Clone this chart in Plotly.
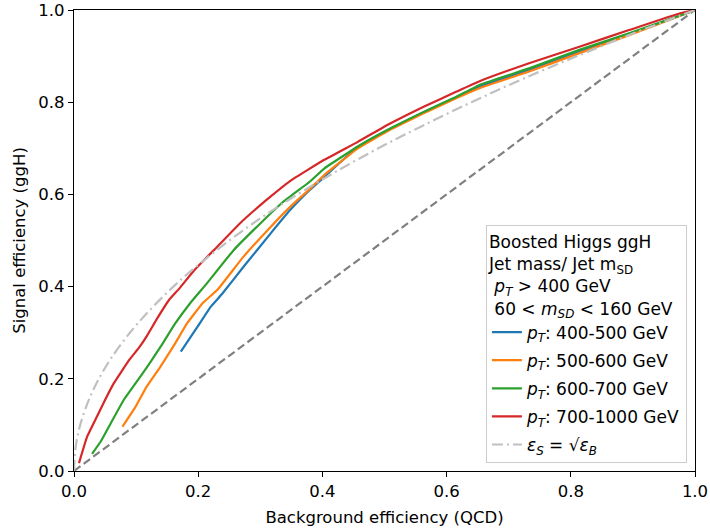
import plotly.graph_objects as go

# ROC curves (x: background eff., y: signal eff.)
bkg_400_500 = [0.172, 0.199, 0.220, 0.239, 0.273, 0.317, 0.348, 0.380, 0.403, 0.457, 0.509, 0.563, 0.616, 0.654, 0.734, 0.815, 0.895, 1.0]
sig_400_500 = [0.259, 0.313, 0.356, 0.385, 0.443, 0.516, 0.566, 0.610, 0.638, 0.703, 0.742, 0.778, 0.811, 0.834, 0.871, 0.911, 0.948, 1.0]

bkg_500_600 = [0.078, 0.099, 0.117, 0.139, 0.163, 0.182, 0.207, 0.231, 0.273, 0.317, 0.348, 0.380, 0.403, 0.457, 0.509, 0.563, 0.616, 0.654, 0.734, 0.815, 0.895, 1.0]
sig_500_600 = [0.096, 0.139, 0.183, 0.226, 0.277, 0.320, 0.364, 0.393, 0.465, 0.530, 0.573, 0.612, 0.642, 0.700, 0.740, 0.776, 0.809, 0.831, 0.867, 0.907, 0.946, 1.0]

bkg_600_700 = [0.029, 0.043, 0.059, 0.080, 0.099, 0.122, 0.143, 0.163, 0.187, 0.214, 0.257, 0.300, 0.337, 0.380, 0.403, 0.457, 0.509, 0.563, 0.616, 0.654, 0.734, 0.815, 0.895, 0.976, 1.0]
sig_600_700 = [0.037, 0.064, 0.103, 0.154, 0.190, 0.234, 0.277, 0.320, 0.364, 0.407, 0.479, 0.537, 0.584, 0.628, 0.656, 0.704, 0.743, 0.779, 0.812, 0.838, 0.874, 0.914, 0.950, 0.988, 1.0]

bkg_700_1000 = [0.008, 0.021, 0.037, 0.050, 0.064, 0.089, 0.105, 0.117, 0.134, 0.153, 0.169, 0.194, 0.231, 0.267, 0.310, 0.349, 0.403, 0.457, 0.509, 0.563, 0.616, 0.654, 0.734, 0.815, 0.895, 0.976, 1.0]
sig_700_1000 = [0.017, 0.074, 0.118, 0.154, 0.190, 0.241, 0.268, 0.292, 0.331, 0.371, 0.395, 0.436, 0.487, 0.537, 0.588, 0.630, 0.675, 0.714, 0.754, 0.790, 0.823, 0.846, 0.885, 0.921, 0.957, 0.993, 1.0]

# reference curve eps_S = sqrt(eps_B), tabulated
ref_x = [0.0, 0.002, 0.005, 0.01, 0.02, 0.03, 0.04, 0.06, 0.09, 0.12, 0.16, 0.2, 0.25, 0.3, 0.36, 0.42, 0.49, 0.56, 0.64, 0.72, 0.81, 0.9, 1.0]
ref_y = [0.0, 0.045, 0.071, 0.1, 0.141, 0.173, 0.2, 0.245, 0.3, 0.346, 0.4, 0.447, 0.5, 0.548, 0.6, 0.648, 0.7, 0.748, 0.8, 0.849, 0.9, 0.949, 1.0]

diag = [0.0, 1.0]

series = [
    ("<i>p</i><sub><i>T</i></sub>: 400-500 GeV", bkg_400_500, sig_400_500, "#1f77b4"),
    ("<i>p</i><sub><i>T</i></sub>: 500-600 GeV", bkg_500_600, sig_500_600, "#ff7f0e"),
    ("<i>p</i><sub><i>T</i></sub>: 600-700 GeV", bkg_600_700, sig_600_700, "#2ca02c"),
    ("<i>p</i><sub><i>T</i></sub>: 700-1000 GeV", bkg_700_1000, sig_700_1000, "#d62728"),
]

fig = go.Figure()
fig.add_trace(go.Scatter(x=diag, y=diag, mode="lines", showlegend=False,
                         line=dict(color="#808080", width=2.2, dash="8px,4px")))
for i, (name, x, y, c) in enumerate(series):
    fig.add_trace(go.Scatter(x=x, y=y, mode="lines", name=name, legendgroup=f"g{i}",
                             line=dict(color=c, width=2.2, shape="spline", smoothing=0.3)))
fig.add_trace(go.Scatter(x=ref_x, y=ref_y, mode="lines", legendgroup="ref",
                         name="<i>ε</i><sub><i>S</i></sub> = √<i>ε</i><sub><i>B</i></sub>",
                         line=dict(color="#c0c0c0", width=2.2, dash="11px,4px,2px,4px", shape="spline")))

font = "DejaVu Sans, Arial, sans-serif"
axis_common = dict(range=[0, 1], showgrid=False, zeroline=False, showline=True, automargin=False,
                   linecolor="black", linewidth=1.2, mirror=True, ticks="outside",
                   ticklen=5, tickwidth=1.2, tickcolor="black",
                   tickvals=[0, 0.2, 0.4, 0.6, 0.8, 1.0],
                   ticktext=["0.0", "0.2", "0.4", "0.6", "0.8", "1.0"],
                   tickfont=dict(size=16.5, color="black", family=font))
fig.update_layout(
    width=710, height=531,
    margin=dict(l=74, r=15, t=10, b=60),
    plot_bgcolor="white", paper_bgcolor="white",
    font=dict(family=font, size=16.5, color="black"),
    xaxis=dict(title=dict(text="Background efficiency (QCD)", font=dict(size=16.5), standoff=11), **axis_common),
    yaxis=dict(title=dict(text="Signal efficiency (ggH)", font=dict(size=16.5), standoff=8), **axis_common),
    legend=dict(
        x=0.987, y=0.017, xanchor="right", yanchor="bottom",
        bgcolor="rgba(255,255,255,0.85)", bordercolor="#cccccc", borderwidth=1,
        font=dict(size=17, family=font),
        title=dict(text="Boosted Higgs ggH<br>Jet mass/ Jet m<sub>SD</sub><br> <i>p</i><sub><i>T</i></sub> > 400 GeV<br> 60 < <i>m</i><sub><i>SD</i></sub> < 160 GeV",
                   font=dict(size=17, family=font)),
        tracegroupgap=3,
    ),
)
fig.write_html("out.html")
